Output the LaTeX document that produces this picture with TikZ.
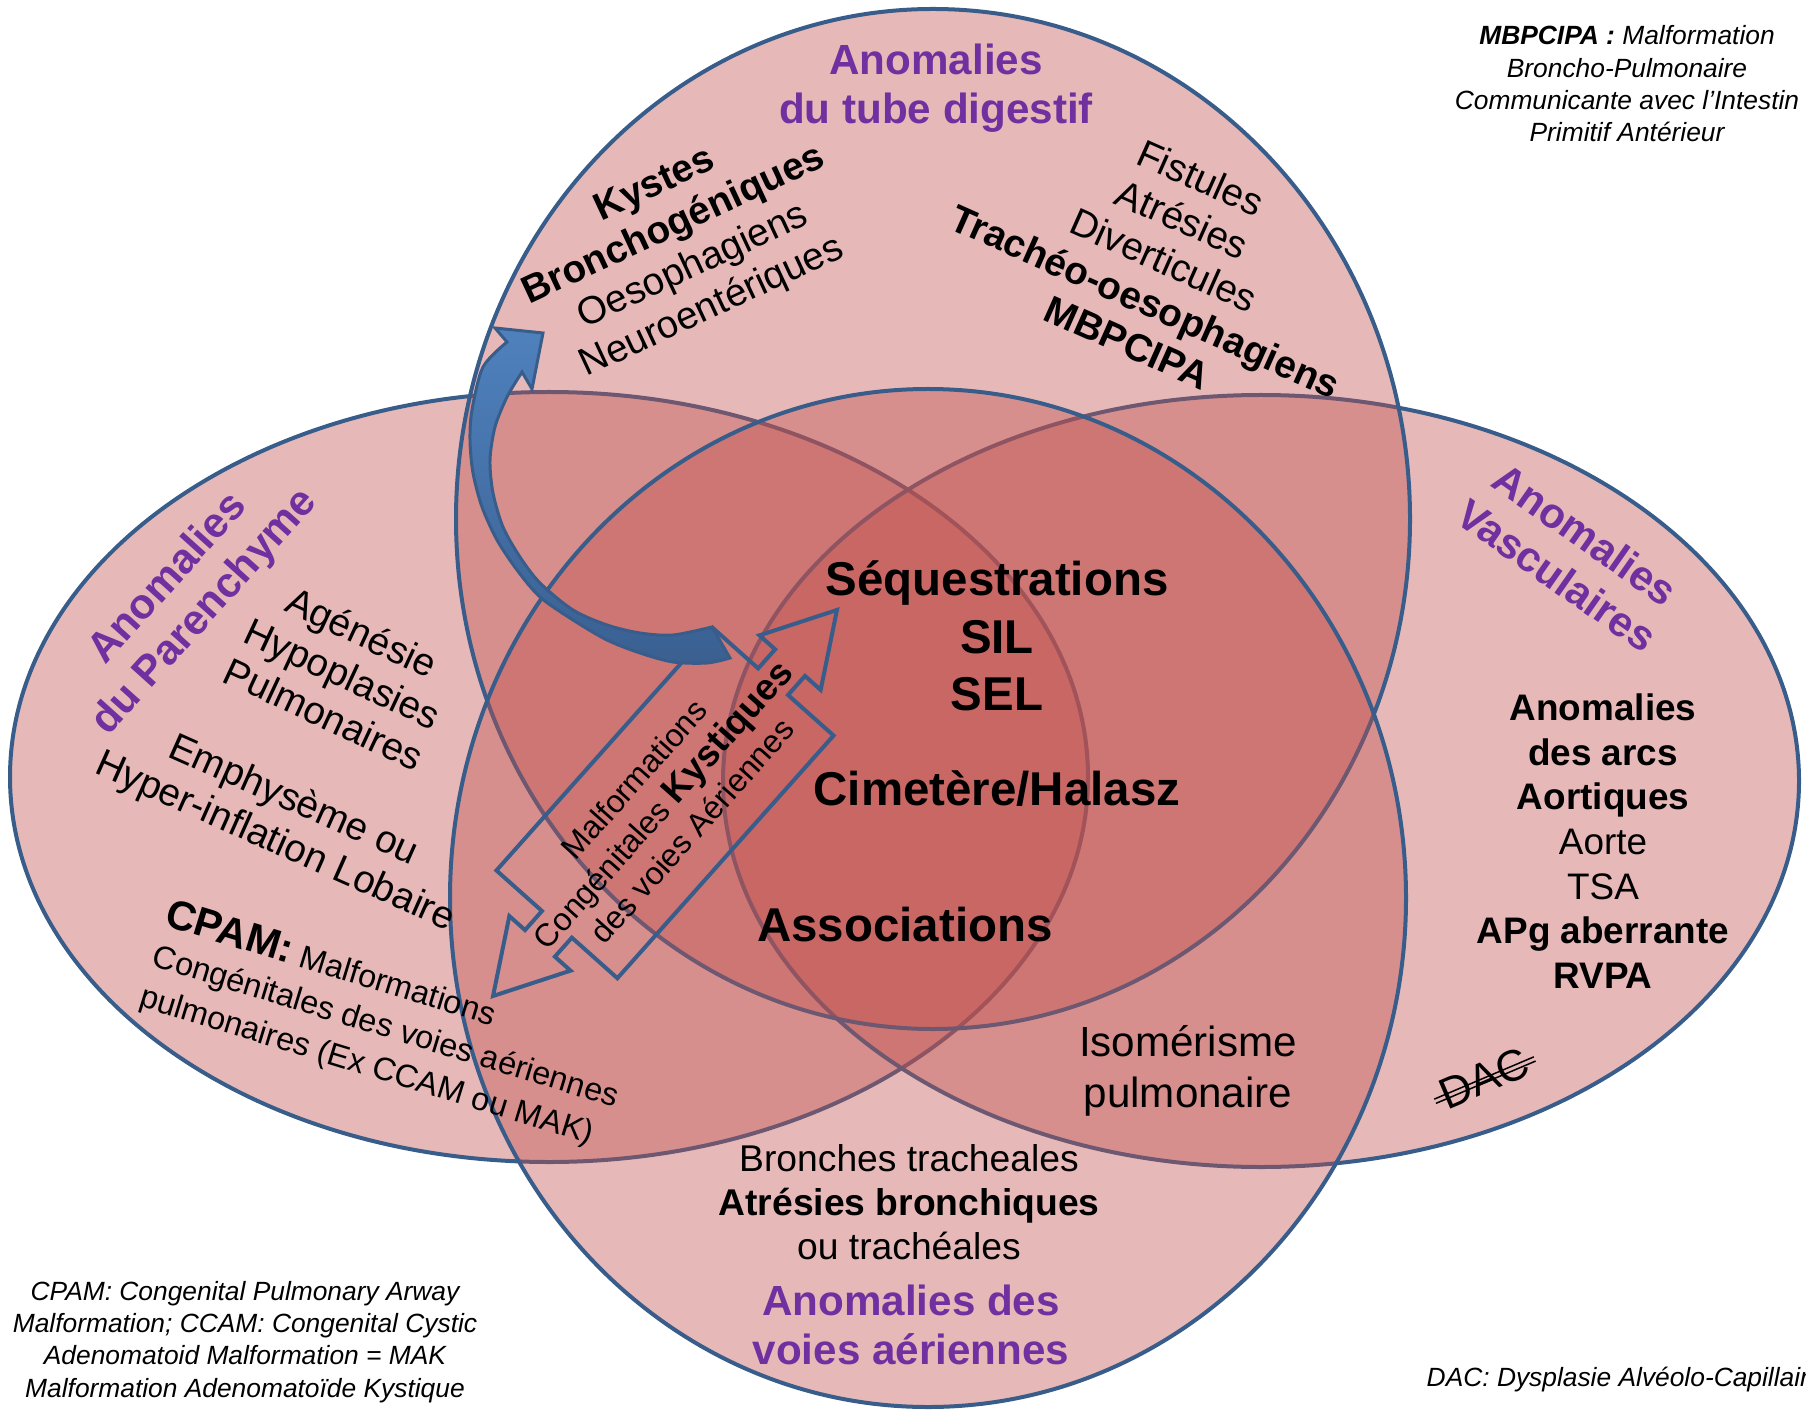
\documentclass[tikz,border=0pt]{standalone}
\usepackage{fontspec}
\setmainfont{Liberation Sans}
\usetikzlibrary{calc}

\definecolor{rouge}{RGB}{192,80,77}
\definecolor{bleu}{RGB}{56,93,138}
\definecolor{bleuclair}{RGB}{79,129,189}
\definecolor{bleufonce}{RGB}{58,96,145}
\definecolor{violet}{RGB}{112,48,160}

\newcommand{\taille}[2]{\fontsize{#1}{#2}\selectfont}

\tikzset{
    ensemble/.style={draw=bleu, line width=0.4mm, fill=rouge, fill opacity=0.4},
    titre/.style={text=violet, font=\bfseries\taille{12}{14.1}, align=center},
    liste/.style={font=\taille{11}{12.8}, align=center},
    centre/.style={font=\bfseries\taille{13.5}{16.3}, align=center},
    note/.style={font=\itshape\taille{7.5}{9.2}, align=center},
}

\begin{document}
\begin{tikzpicture}[x=0.1mm, y=-0.1mm]
    \useasboundingbox (0, 0) rectangle (1806, 1411);

    \draw[ensemble] (549, 777) ellipse [x radius=539, y radius=385];
    \draw[ensemble] (1261, 781) ellipse [x radius=538, y radius=386];
    \draw[ensemble] (933, 519) ellipse [x radius=477, y radius=510];
    \draw[ensemble] (928, 898) ellipse [x radius=478, y radius=509];

    \begin{scope}[shift={(665, 803)}, rotate=48.3]
        \draw[bleu, line width=0.4mm]
            (-162.5, -81) -- (162.5, -81) -- (162.5, -20) -- (188, -20) -- (188, -41)
            -- (258.5, 0) -- (188, 41) -- (188, 20) -- (162.5, 20) -- (162.5, 81)
            -- (-162.5, 81) -- (-162.5, 20) -- (-188, 20) -- (-188, 41) -- (-258.5, 0)
            -- (-188, -41) -- (-188, -20) -- (-162.5, -20) -- cycle;
    \end{scope}
    \node[rotate=48.3, font=\taille{9.1}{11}, align=center] (mcka) at (663, 805)
        {Malformations\\Congénitales {\bfseries\taille{10.5}{11}Kystiques}\\des voies Aériennes};

    \draw[bleu, line width=0.3mm, top color=bleuclair, bottom color=bleufonce]
        (543, 333) -- (532, 389) -- (522, 372)
        -- plot[smooth] coordinates {(522, 372) (507, 397) (495, 427) (490, 460) (493, 493)
            (503, 527) (520, 557) (540, 583) (573, 610) (607, 625) (640, 633) (673, 635) (712, 627)}
        -- (730, 658)
        -- plot[smooth] coordinates {(730, 658) (707, 663) (673, 662) (640, 653) (607, 640)
            (573, 620) (540, 597) (517, 570) (497, 540) (482, 507) (473, 473) (470, 440)
            (472, 410) (483, 367) (507, 342)}
        -- (495, 328) -- cycle;

    \node[titre] (digestif) at (936, 88) {Anomalies\\du tube digestif};
    \node[titre, rotate=48] (parenchyme) at (187, 596) {Anomalies\\du Parenchyme};
    \node[titre, rotate=-35] (vasculaires) at (1571, 555) {Anomalies\\Vasculaires};
    \node[titre] (aeriennes) at (911, 1325) {Anomalies des\\voies aériennes};

    \node[liste, rotate=25] (kystes) at (684, 247)
        {\textbf{Kystes}\\\textbf{Bronchogéniques}\\Oesophagiens\\Neuroentériques};
    \node[liste, rotate=-24] (fistules) at (1164, 260)
        {Fistules\\Atrésies\\Diverticules\\\textbf{Trachéo-oesophagiens}\\\textbf{MBPCIPA}};
    \node[liste, rotate=-25] (agenesie) at (343, 673) {Agénésie\\Hypoplasies\\Pulmonaires};
    \node[liste, rotate=-24] (emphyseme) at (284, 822) {Emphysème ou\\Hyper-inflation Lobaire};
    \node[rotate=-17, font=\taille{9.2}{12}, align=left] (cpam) at (386, 1026)
        {{\bfseries\taille{11.7}{12}CPAM:} Malformations\\Congénitales des voies aériennes\\pulmonaires (Ex CCAM ou MAK)};
    \node[font=\taille{10.5}{12.7}, align=center] (arcs) at (1603, 841)
        {\textbf{Anomalies}\\\textbf{des arcs}\\\textbf{Aortiques}\\Aorte\\TSA\\\textbf{APg aberrante}\\\textbf{RVPA}};
    \node[font=\taille{10.6}{12.5}, align=center] (bronches) at (909, 1202)
        {Bronches tracheales\\\textbf{Atrésies bronchiques}\\ou trachéales};
    \node[font=\taille{12}{14.4}, align=center] (isomerisme) at (1188, 1071) {Isomérisme\\pulmonaire};

    \node[centre] (sequestrations) at (997, 636) {Séquestrations\\SIL\\SEL};
    \node[centre] (cimetere) at (997, 789) {Cimetère/Halasz};
    \node[centre] (associations) at (905, 925) {Associations};

    \node[font=\taille{12.5}{14}, rotate=23, inner sep=0pt] (dac) at (1484, 1078) {DAC};
    \draw[line width=0.15mm, shorten <=-2pt, shorten >=-2pt]
        ($(dac.south west)!0.36!(dac.north west)$) -- ($(dac.south east)!0.36!(dac.north east)$);
    \draw[line width=0.15mm, shorten <=-2pt, shorten >=-2pt]
        ($(dac.south west)!0.5!(dac.north west)$) -- ($(dac.south east)!0.5!(dac.north east)$);

    \node[note] (notecpam) at (245, 1342)
        {CPAM: Congenital Pulmonary Arway\\Malformation; CCAM: Congenital Cystic\\Adenomatoid Malformation = MAK\\Malformation Adenomatoïde Kystique};
    \node[note] (notembpcipa) at (1627, 84)
        {\textbf{MBPCIPA :} Malformation\\Broncho-Pulmonaire\\Communicante avec l’Intestin\\Primitif Antérieur};
    \node[note, anchor=west, inner sep=0pt] (notedac) at (1426, 1380) {DAC: Dysplasie Alvéolo-Capillaire};
\end{tikzpicture}
\end{document}
